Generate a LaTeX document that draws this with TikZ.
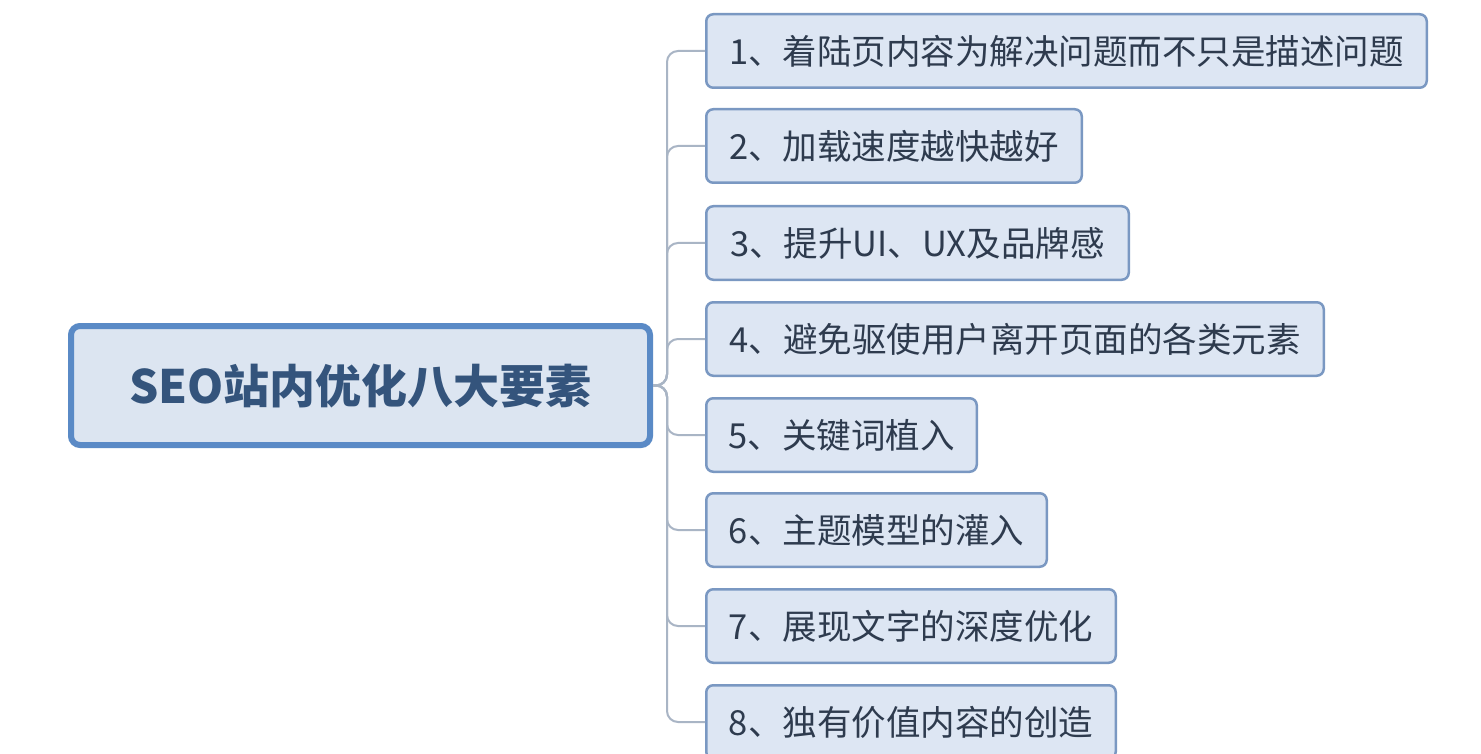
\documentclass[tikz,border=0pt]{standalone}
\usepackage{fontspec}
\setmainfont{Noto Sans CJK SC}
\newfontfamily\cjkb[BoldFont={Noto Sans CJK SC Bold}]{Noto Sans CJK SC}
\definecolor{rootfill}{HTML}{DCE5F1}
\definecolor{rootdraw}{HTML}{5A8AC6}
\definecolor{roottext}{HTML}{34547C}
\definecolor{kidfill}{HTML}{DDE6F3}
\definecolor{kiddraw}{HTML}{7A98C2}
\definecolor{kidtext}{HTML}{2E3B4E}
\definecolor{connc}{HTML}{A9B5C5}
\tikzset{
  rootbox/.style={draw=rootdraw, fill=rootfill, line width=6pt, rounded corners=9pt,
    minimum width=579pt, minimum height=119pt, inner sep=0pt, text=roottext,
    font=\fontsize{46}{50}\selectfont\bfseries},
  kidbox/.style={draw=kiddraw, fill=kidfill, line width=2.5pt, rounded corners=7pt,
    minimum height=73.5pt, inner sep=0pt, text=kidtext,
    font=\fontsize{34.5}{38}\selectfont},
  conn/.style={draw=connc, line width=2pt, rounded corners=11pt}
}
\begin{document}
\begin{tikzpicture}[x=1pt,y=-1pt]
\useasboundingbox[fill=white] (0,0) rectangle (1481,754);
\node[rootbox] (root) at (360.5,385.5) {SEO站内优化八大要素};
\node[kidbox, minimum width=720.5pt] (c1) at (1066.5,51) {1、着陆页内容为解决问题而不只是描述问题};
\node[kidbox, minimum width=375.5pt] (c2) at (894,146) {2、加载速度越快越好};
\node[kidbox, minimum width=422.5pt] (c3) at (917.5,243) {3、提升UI、UX及品牌感};
\node[kidbox, minimum width=617.5pt] (c4) at (1015,339) {4、避免驱使用户离开页面的各类元素};
\node[kidbox, minimum width=270.5pt] (c5) at (841.5,435) {5、关键词植入};
\node[kidbox, minimum width=340.5pt] (c6) at (876.5,530) {6、主题模型的灌入};
\node[kidbox, minimum width=409.5pt] (c7) at (911,626) {7、展现文字的深度优化};
\node[kidbox, minimum width=409.5pt] (c8) at (911,722) {8、独有价值内容的创造};
\coordinate (trunk) at (667,385.5);
\foreach \k in {1,...,8}{
  \draw[conn] (root.east) -- (trunk) |- (c\k.west);
}
\end{tikzpicture}
\end{document}
